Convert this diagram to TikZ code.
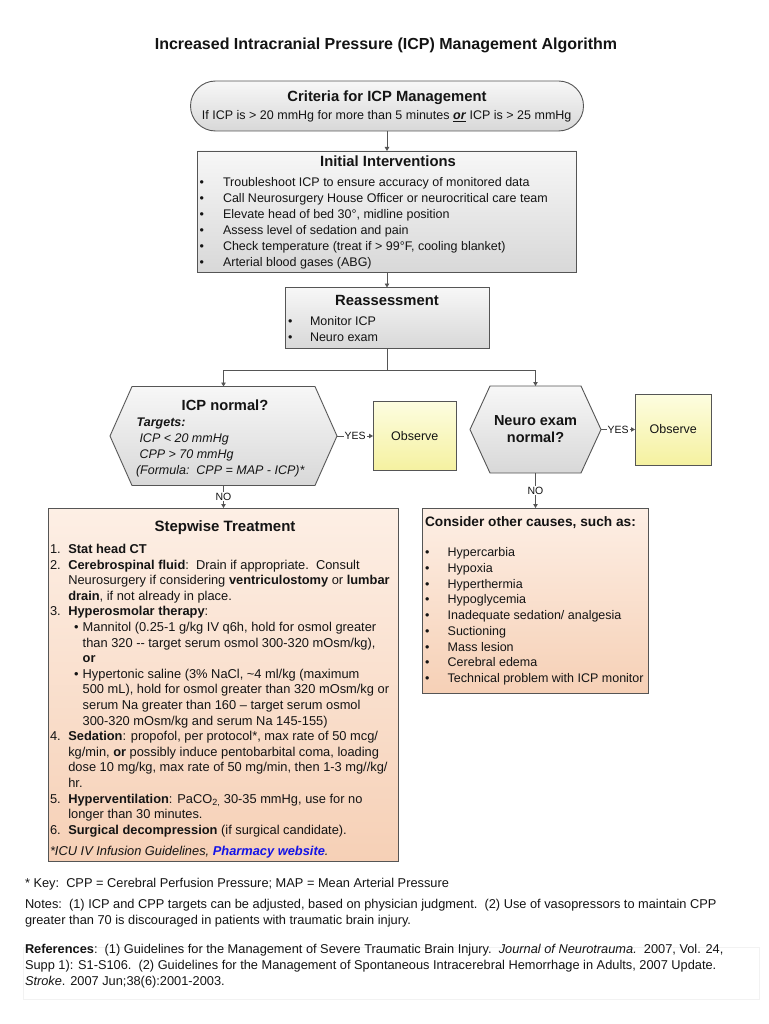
\documentclass[tikz,border=0pt]{standalone}
\usepackage{fontspec}
\setmainfont{Liberation Sans}
\usetikzlibrary{arrows.meta}
\newcommand\fsz[1]{\fontsize{#1}{#1}\selectfont}
\definecolor{linec}{RGB}{85,85,85}
\definecolor{gtop}{RGB}{247,247,247}
\definecolor{gbot}{RGB}{216,216,216}
\definecolor{ytop}{RGB}{253,253,224}
\definecolor{ybot}{RGB}{245,241,160}
\definecolor{ptop}{RGB}{253,239,229}
\definecolor{pbot}{RGB}{246,208,182}
\definecolor{linkblue}{RGB}{20,20,230}
\definecolor{txtc}{RGB}{20,20,20}
\begin{document}
\begin{tikzpicture}[x=1pt,y=-1pt,
  plainbox/.style={draw=linec, line width=0.9pt, inner sep=0pt, outer sep=0pt},
  graybox/.style={plainbox, top color=gtop, bottom color=gbot},
  yelbox/.style={plainbox, top color=ytop, bottom color=ybot},
  peachbox/.style={plainbox, top color=ptop, bottom color=pbot},
  ghost/.style={inner sep=0pt, outer sep=0pt, draw=none},
  txt/.style={inner sep=0pt, outer sep=0pt, anchor=base west, text=txtc, font=\fsz{12.5}},
  ctxt/.style={txt, anchor=base},
  headtxt/.style={ctxt, font=\bfseries\fsz{14.8}},
  stxt/.style={txt, font=\fsz{12.85}},
  conn/.style={draw=linec, line width=0.9pt},
  arr/.style={conn, -{Triangle[length=4pt,width=4.5pt]}},
  lbl/.style={fill=white, inner sep=1pt, text=txtc, font=\fsz{10.5}},
]
\useasboundingbox[fill=white] (0,0) rectangle (768,1024);

% title
\node[ctxt, font=\bfseries\fsz{16}] (title) at (386,50) {Increased Intracranial Pressure (ICP) Management Algorithm};

% criteria
\node[graybox, rounded corners=25pt, minimum width=393pt, minimum height=50pt] (crit) at (387,106) {};
\node[headtxt] (critt) at (387,101.7) {Criteria for ICP Management};
\node[ctxt] (crits) at (386.7,120) {If ICP is > 20 mmHg for more than 5 minutes \underline{\textbf{\textit{or}}} ICP is > 25 mmHg};

% initial interventions
\node[graybox, minimum width=379pt, minimum height=121.5pt] (init) at (387,211.75) {};
\node[headtxt] (initt) at (388,166.7) {Initial Interventions};
\foreach \t [count=\i] in {{Troubleshoot ICP to ensure accuracy of monitored data},
  {Call Neurosurgery House Officer or neurocritical care team},
  {Elevate head of bed 30°, midline position},
  {Assess level of sedation and pain},
  {Check temperature (treat if > 99°F, cooling blanket)},
  {Arterial blood gases (ABG)}}{
  \node[txt] (ib\i) at (199.5,{186.5+16*(\i-1)}) {\textbullet};
  \node[txt] (it\i) at (223,{186.5+16*(\i-1)}) {\t};
}

% reassessment
\node[graybox, minimum width=204pt, minimum height=60.5pt] (reass) at (387,317.75) {};
\node[headtxt] (reasst) at (387,305) {Reassessment};
\node[txt] (rb1) at (288,325) {\textbullet};
\node[txt] (rt1) at (310,325) {Monitor ICP};
\node[txt] (rb2) at (288,341) {\textbullet};
\node[txt] (rt2) at (310,341) {Neuro exam};

% left hexagon
\node[ghost, minimum width=227pt, minimum height=99pt] (hexL) at (223.5,436) {};
\path[draw=linec, line width=0.9pt, top color=gtop, bottom color=gbot]
  (hexL.west) -- ([xshift=22pt]hexL.north west) -- ([xshift=-22pt]hexL.north east)
  -- (hexL.east) -- ([xshift=-22pt]hexL.south east) -- ([xshift=22pt]hexL.south west) -- cycle;
\node[ctxt, font=\bfseries\fsz{14.7}] (hexLt) at (225,410) {ICP normal?};
\node[txt, font=\bfseries\itshape\fsz{12.5}] (tg0) at (136.7,426.5) {Targets:};
\node[txt, font=\itshape\fsz{12.5}] (tg1) at (139.5,442) {ICP < 20 mmHg};
\node[txt, font=\itshape\fsz{12.5}] (tg2) at (139.5,458) {CPP > 70 mmHg};
\node[txt, font=\itshape\fsz{12.5}] (tg3) at (136,474.5) {(Formula:\ \ CPP = MAP - ICP)*};

% right hexagon
\node[ghost, minimum width=131pt, minimum height=87pt] (hexR) at (535.5,429.5) {};
\path[draw=linec, line width=0.9pt, top color=gtop, bottom color=gbot]
  (hexR.west) -- ([xshift=20pt]hexR.north west) -- ([xshift=-20pt]hexR.north east)
  -- (hexR.east) -- ([xshift=-20pt]hexR.south east) -- ([xshift=20pt]hexR.south west) -- cycle;
\node[ctxt, font=\bfseries\fsz{14.5}] (hexRt1) at (535.5,425) {Neuro exam};
\node[ctxt, font=\bfseries\fsz{14.5}] (hexRt2) at (535.5,442.7) {normal?};

% observe boxes
\node[yelbox, minimum width=83.5pt, minimum height=69.5pt] (obsL) at (414.75,436) {};
\node[ctxt] (obsLt) at (414.75,440) {Observe};
\node[yelbox, minimum width=76.5pt, minimum height=71pt] (obsR) at (673.25,429.5) {};
\node[ctxt] (obsRt) at (673.25,433.5) {Observe};

% stepwise treatment
\node[peachbox, minimum width=350pt, minimum height=353pt] (step) at (223.5,684.5) {};
\node[ctxt, font=\bfseries\fsz{15}] (stept) at (225,531.7) {Stepwise Treatment};
\newcommand\stl[3]{\node[stxt] (st#1) at (#2,{553.5+15.6*(#1-1)}) {#3};}
\newcommand\stn[2]{\node[stxt] (sn#1) at (50,{553.5+15.6*(#1-1)}) {#2.};}
\newcommand\stb[1]{\node[stxt] (sb#1) at (74,{553.5+15.6*(#1-1)}) {\textbullet};}
\stn{1}{1}\stl{1}{68.3}{\textbf{Stat head CT}}
\stn{2}{2}\stl{2}{68.3}{\textbf{Cerebrospinal fluid}:\ \ Drain if appropriate.\ \ Consult}
\stl{3}{68.3}{Neurosurgery if considering \textbf{ventriculostomy} or \textbf{lumbar}}
\stl{4}{68.3}{\textbf{drain}, if not already in place.}
\stn{5}{3}\stl{5}{68.3}{\textbf{Hyperosmolar therapy}:}
\stb{6}\stl{6}{82.7}{Mannitol (0.25-1 g/kg IV q6h, hold for osmol greater}
\stl{7}{82.7}{than 320 -{}- target serum osmol 300-320 mOsm/kg),}
\stl{8}{82.7}{\textbf{or}}
\stb{9}\stl{9}{82.7}{Hypertonic saline (3\% NaCl, \textasciitilde4 ml/kg (maximum}
\stl{10}{82.7}{500 mL), hold for osmol greater than 320 mOsm/kg or}
\stl{11}{82.7}{serum Na greater than 160 – target serum osmol}
\stl{12}{82.7}{300-320 mOsm/kg and serum Na 145-155)}
\stn{13}{4}\stl{13}{68.3}{\textbf{Sedation}: propofol, per protocol*, max rate of 50 mcg/}
\stl{14}{68.3}{kg/min, \textbf{or} possibly induce pentobarbital coma, loading}
\stl{15}{68.3}{dose 10 mg/kg, max rate of 50 mg/min, then 1-3 mg//kg/}
\stl{16}{68.3}{hr.}
\stn{17}{5}\stl{17}{68.3}{\textbf{Hyperventilation}: PaCO\textsubscript{2,} 30-35 mmHg, use for no}
\stl{18}{68.3}{longer than 30 minutes.}
\stn{19}{6}\stl{19}{68.3}{\textbf{Surgical decompression} (if surgical candidate).}
\node[stxt, font=\itshape\fsz{12.85}] (icu) at (50,855.5) {*ICU IV Infusion Guidelines, \textcolor{linkblue}{\textbf{Pharmacy website}}.};

% other causes
\node[peachbox, minimum width=225.5pt, minimum height=185pt] (other) at (535.5,600.5) {};
\node[txt, font=\bfseries\fsz{13.7}] (othert) at (425,526.7) {Consider other causes, such as:};
\foreach \t [count=\i] in {Hypercarbia, Hypoxia, Hyperthermia, Hypoglycemia,
  {Inadequate sedation/ analgesia}, Suctioning, {Mass lesion}, {Cerebral edema},
  {Technical problem with ICP monitor}}{
  \node[txt] (ob\i) at (425,{556.7+15.75*(\i-1)}) {\textbullet};
  \node[txt] (ot\i) at (447.7,{556.7+15.75*(\i-1)}) {\t};
}

% connectors
\draw[arr] (crit.south) -- (init.north);
\draw[arr] (init.south) -- (reass.north);
\coordinate (j) at (387,370);
\draw[conn] (reass.south) -- (j);
\draw[arr] (j) -| (hexL.north);
\draw[arr] (j) -| (hexR.north);
\draw[arr] (hexL.east) -- node[lbl] (yes1) {YES} (obsL.west);
\draw[arr] (hexR.east) -- node[lbl] (yes2) {YES} (obsR.west);
\draw[arr] (hexL.south) -- node[lbl] (no1) {NO} (step.north);
\draw[arr] (hexR.south) -- node[lbl] (no2) {NO} (other.north);

% bottom notes
\node[ghost, draw=gray!10, line width=0.8pt, minimum width=735.5pt, minimum height=52pt] (refbox) at (391.25,973) {};
\node[txt, font=\fsz{12.8}] (key) at (25,887.3) {* Key:\ \ CPP = Cerebral Perfusion Pressure; MAP = Mean Arterial Pressure};
\node[txt, font=\fsz{12.8}] (notes1) at (25,908.3) {Notes:\ \ (1) ICP and CPP targets can be adjusted, based on physician judgment.\ \ (2) Use of vasopressors to maintain CPP};
\node[txt, font=\fsz{12.8}] (notes2) at (25,924.5) {greater than 70 is discouraged in patients with traumatic brain injury.};
\node[txt, font=\fsz{12.8}] (ref1) at (25,953.3) {\textbf{References}:\ \ (1) Guidelines for the Management of Severe Traumatic Brain Injury.\ \ \textit{Journal of Neurotrauma.}\ \ 2007, Vol. 24,};
\node[txt, font=\fsz{12.8}] (ref2) at (25,969.3) {Supp 1): S1-S106.\ \ (2) Guidelines for the Management of Spontaneous Intracerebral Hemorrhage in Adults, 2007 Update.};
\node[txt, font=\fsz{12.8}] (ref3) at (25,985.3) {\textit{Stroke}. 2007 Jun;38(6):2001-2003.};
\end{tikzpicture}
\end{document}
